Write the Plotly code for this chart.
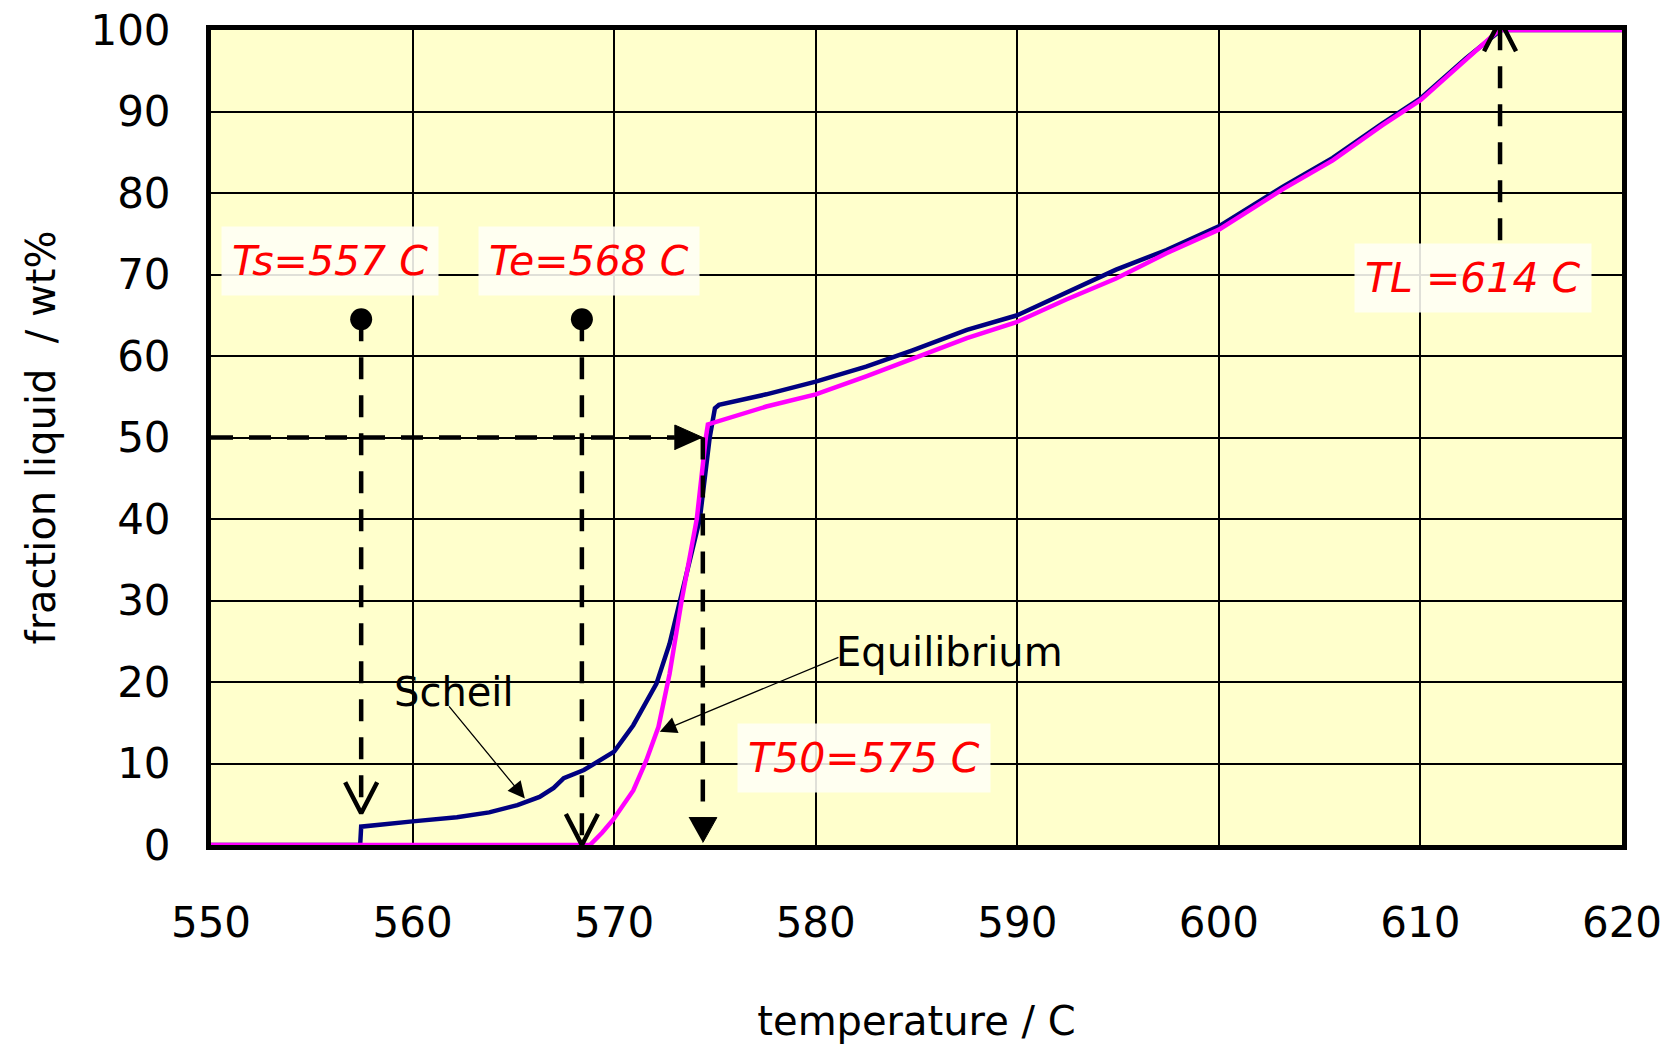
import plotly.graph_objects as go

# ---- data -------------------------------------------------------------
# Scheil solidification path: temperature (C) vs. fraction liquid (wt%)
scheil_temp = [550, 557.4, 557.45, 558.0, 560.0, 562.2, 563.8, 565.2, 566.3, 567.0,
               567.5, 568.5, 570.0, 570.95, 572.1, 572.75, 573.25, 574.25, 574.74,
               575.0, 575.2, 577.55, 580.0, 582.5, 584.8, 587.5, 590.0, 592.4, 594.9,
               597.4, 600.0, 603.2, 605.65, 608.1, 610.0, 612.25, 614.0, 620]
scheil_frac = [0, 0, 2.25, 2.4, 2.9, 3.4, 4.0, 4.9, 5.9, 7.0,
               8.2, 9.2, 11.45, 14.7, 19.8, 24.7, 30.0, 40.0, 50.0,
               53.6, 54.0, 55.3, 56.85, 58.7, 60.7, 63.2, 65.0, 67.7, 70.6,
               73.0, 75.9, 80.8, 84.3, 88.5, 91.6, 96.5, 100, 100]

# Equilibrium solidification path
equil_temp = [550, 568.8, 569.4, 569.95, 570.95, 571.6, 572.2, 572.75, 573.35, 574.1,
              574.55, 574.65, 577.55, 580.0, 582.5, 584.8, 587.5, 590.0, 592.4, 594.9,
              597.4, 600.0, 603.2, 605.65, 608.1, 610.0, 612.25, 613.9, 620]
equil_frac = [0, 0, 1.5, 3.1, 6.7, 10.4, 14.5, 21.0, 30.0, 40.0,
              50.0, 51.6, 53.8, 55.3, 57.5, 59.7, 62.2, 64.2, 66.9, 69.5,
              72.6, 75.5, 80.5, 84.0, 88.3, 91.4, 96.4, 100, 100]

# characteristic temperatures (C) and levels (wt%)
ts_temp, te_temp, t50_temp, tl_temp = 557.45, 568.4, 574.4, 613.95
marker_frac = 64.5          # start of the Ts / Te drop lines
ts_tip_frac = 3.9           # Ts arrow stops just above the Scheil step
half_frac = 50
tl_line_start, tl_tip_frac = 74.2, 101.2

# temperature labels: text, x (C), y (wt%)
label_text = ["Ts=557 C", "Te=568 C", "T50=575 C", "TL =614 C"]
label_x = [555.9, 568.75, 582.4, 612.6]
label_y = [71.6, 71.6, 10.7, 69.6]

# curve name labels with pointer arrows
name_text = ["Scheil", "Equilibrium"]
name_x = [562.05, 586.62]
name_y = [18.8, 23.7]
arrow_tail_x = [561.75, 581.2]
arrow_tail_y = [17.2, 23.1]
arrow_head_x = [565.57, 572.26]
arrow_head_y = [5.7, 13.9]

x_ticks = [550, 560, 570, 580, 590, 600, 610, 620]
y_ticks = [0, 10, 20, 30, 40, 50, 60, 70, 80, 90, 100]

# ---- layout geometry ----------------------------------------------------
W, H = 1670, 1048
ML, MR, MT, MB = 211, 48, 30, 203
PW, PH = W - ML - MR, H - MT - MB
X_RANGE, Y_RANGE = [550, 620], [0, 100]
DX = (X_RANGE[1] - X_RANGE[0]) / PW     # degrees per pixel
DY = (Y_RANGE[1] - Y_RANGE[0]) / PH     # wt% per pixel

FONT = "DejaVu Sans"
DASH = "22px,16px"
LW = 4.5

fig = go.Figure()

# solidification curves
fig.add_trace(go.Scatter(x=scheil_temp, y=scheil_frac, mode="lines",
                         line=dict(color="#000080", width=4.5), cliponaxis=False,
                         hoverinfo="skip"))
fig.add_trace(go.Scatter(x=equil_temp, y=equil_frac, mode="lines",
                         line=dict(color="#FF00FF", width=4.5), cliponaxis=False,
                         hoverinfo="skip"))


def dashed(xs, ys):
    fig.add_trace(go.Scatter(x=xs, y=ys, mode="lines", cliponaxis=False,
                             line=dict(color="black", width=LW, dash=DASH),
                             hoverinfo="skip"))


def open_head(tx, ty, direction):
    # V-shaped arrow head, direction = -1 (pointing down) or +1 (up)
    hw, hl = 16 * DX, 31 * DY
    fig.add_trace(go.Scatter(x=[tx - hw, tx, tx + hw],
                             y=[ty - direction * hl, ty, ty - direction * hl],
                             mode="lines", cliponaxis=False,
                             line=dict(color="black", width=LW),
                             hoverinfo="skip"))


def filled_head(tx, ty, orient):
    if orient == "down":
        hw, hl = 14 * DX, 25 * DY
        xs, ys = [tx - hw, tx + hw, tx], [ty + hl, ty + hl, ty]
    else:  # right
        hw, hl = 12.5 * DY, 28 * DX
        xs, ys = [tx - hl, tx - hl, tx], [ty - hw, ty + hw, ty]
    fig.add_trace(go.Scatter(x=xs, y=ys, mode="lines", fill="toself",
                             fillcolor="black", line=dict(color="black", width=1),
                             cliponaxis=False, hoverinfo="skip"))


# Ts and Te drop lines from the marker dots
dashed([ts_temp, ts_temp], [marker_frac, ts_tip_frac])
open_head(ts_temp, ts_tip_frac, -1)
dashed([te_temp, te_temp], [marker_frac, 0])
open_head(te_temp, 0, -1)
fig.add_trace(go.Scatter(x=[ts_temp, te_temp], y=[marker_frac, marker_frac],
                         mode="markers", marker=dict(color="black", size=22),
                         hoverinfo="skip"))

# 50 % liquid construction
dashed([X_RANGE[0], t50_temp - 28 * DX], [half_frac, half_frac])
filled_head(t50_temp, half_frac, "right")
dashed([t50_temp, t50_temp], [half_frac, 25 * DY])
filled_head(t50_temp, 0.3, "down")

# liquidus
dashed([tl_temp, tl_temp], [tl_line_start, tl_tip_frac])
open_head(tl_temp, tl_tip_frac, 1)

annotations = []
for t, x, y in zip(label_text, label_x, label_y):
    annotations.append(dict(x=x, y=y, xref="x", yref="y", text="<i>%s</i>" % t,
                            showarrow=False, font=dict(family=FONT, size=41, color="#FF0000"),
                            bgcolor="rgba(255,255,246,0.88)", borderpad=10,
                            xanchor="center", yanchor="middle"))
for t, x, y in zip(name_text, name_x, name_y):
    annotations.append(dict(x=x, y=y, xref="x", yref="y", text=t, showarrow=False,
                            font=dict(family=FONT, size=40, color="black"),
                            xanchor="center", yanchor="middle"))
for hx, hy, tx, ty in zip(arrow_head_x, arrow_head_y, arrow_tail_x, arrow_tail_y):
    annotations.append(dict(x=hx, y=hy, xref="x", yref="y", ax=tx, ay=ty,
                            axref="x", ayref="y", text="", showarrow=True,
                            arrowhead=2, arrowsize=2.6, arrowwidth=1.3,
                            arrowcolor="black"))

fig.update_layout(
    width=W, height=H,
    margin=dict(l=ML, r=MR, t=MT, b=MB, pad=0),
    paper_bgcolor="white", plot_bgcolor="#FFFFCC",
    showlegend=False,
    font=dict(family=FONT, color="black"),
    annotations=annotations,
)
fig.update_xaxes(range=X_RANGE, tickvals=x_ticks, ticks="", showgrid=True,
                 gridcolor="black", gridwidth=1.5, zeroline=False,
                 showline=True, linecolor="black", linewidth=5, mirror=True,
                 layer="below traces", automargin=False,
                 tickfont=dict(family=FONT, size=42), ticklabelstandoff=37,
                 title=dict(text="temperature / C", font=dict(family=FONT, size=40),
                            standoff=62))
fig.update_yaxes(range=Y_RANGE, tickvals=y_ticks, ticks="", showgrid=True,
                 gridcolor="black", gridwidth=1.5, zeroline=False,
                 showline=True, linecolor="black", linewidth=5, mirror=True,
                 layer="below traces", automargin=False,
                 tickfont=dict(family=FONT, size=42), ticklabelstandoff=27,
                 title=dict(text="fraction liquid  / wt%", font=dict(family=FONT, size=40),
                            standoff=24))

fig.write_html("out.html")
